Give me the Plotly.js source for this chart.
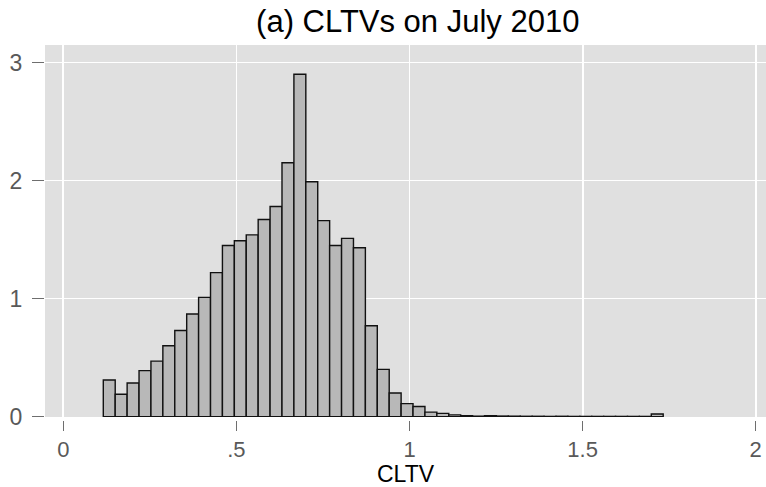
<!DOCTYPE html>
<html>
<head>
<meta charset="utf-8">
<script src="https://cdn.plot.ly/plotly-3.0.1.min.js"></script>
<style>html,body{margin:0;padding:0;background:#fff;}#chart{width:766px;height:487px;}</style>
</head>
<body>
<div id="chart"></div>
<script>
// Histogram of CLTV (density), 47 bins
const binStart = 0.1155;
const binWidth = 0.03441;
const density = [0.31,0.19,0.285,0.39,0.47,0.60,0.73,0.87,1.01,1.22,
                 1.45,1.49,1.54,1.67,1.78,2.15,2.90,1.99,1.66,1.45,
                 1.51,1.43,0.77,0.40,0.20,0.11,0.086,0.038,0.028,0.015,
                 0.008,0.004,0.008,0.005,0.004,0.003,0.003,0.002,0.003,0.002,
                 0.002,0.002,0.002,0.002,0.002,0.002,0.023];
const xTickVals = [0, 0.5, 1, 1.5, 2];
const xTickText = ["0", ".5", "1", "1.5", "2"];
const yTickVals = [0, 1, 2, 3];
const yTickText = ["0", "1", "2", "3"];

const mids = density.map((_, i) => binStart + (i + 0.5) * binWidth);

const trace = {
  type: 'bar',
  x: mids,
  y: density,
  width: density.map(() => binWidth),
  marker: {color: '#b8b8b8', line: {color: '#111111', width: 1.4}},
  hoverinfo: 'x+y'
};

const font = 'Liberation Sans, Arial, Helvetica, sans-serif';
const layout = {
  width: 766, height: 487,
  margin: {l: 45, r: 0, t: 45, b: 70},
  paper_bgcolor: '#ffffff',
  plot_bgcolor: '#e0e0e0',
  showlegend: false,
  bargap: 0,
  font: {family: font},
  title: {
    text: '(a) CLTVs on July 2010',
    font: {family: font, size: 31, color: '#000000'},
    x: 0.517, xanchor: 'center', xref: 'paper',
    y: 0.957, yanchor: 'middle', yref: 'container'
  },
  xaxis: {
    range: [-0.0529, 2.0297],
    tickvals: xTickVals, ticktext: xTickText,
    ticks: 'outside', ticklen: 13, tickwidth: 1.5, tickcolor: '#6e6e6e',
    tickfont: {family: font, size: 22, color: '#595959'},
    showgrid: true, gridcolor: '#ffffff', gridwidth: 1.8,
    zeroline: false, showline: false,
    title: {text: 'CLTV', font: {family: font, size: 23, color: '#000000'}, standoff: 5}
  },
  yaxis: {
    range: [-0.003, 3.148],
    tickvals: yTickVals, ticktext: yTickText,
    ticks: 'outside', ticklen: 12, tickwidth: 1.5, tickcolor: '#6e6e6e',
    tickfont: {family: font, size: 23, color: '#595959'},
    ticklabelstandoff: 5,
    showgrid: true, gridcolor: '#ffffff', gridwidth: 1.8,
    zeroline: false, showline: false
  },
  shapes: [{
    type: 'rect', xref: 'paper', yref: 'paper',
    x0: 0, x1: 1, y0: -0.0005, y1: -0.011,
    fillcolor: '#ffffff', line: {width: 0}, layer: 'above'
  }]
};

Plotly.newPlot('chart', [trace], layout, {displayModeBar: false, staticPlot: true});
</script>
</body>
</html>
